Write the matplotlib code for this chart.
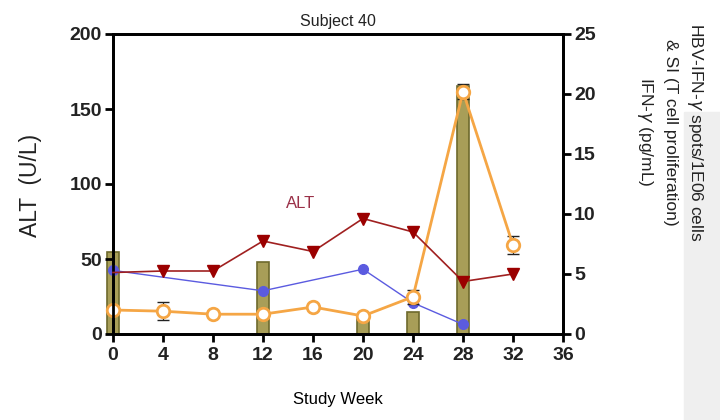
import matplotlib
matplotlib.use("Agg")
from matplotlib import pyplot as plt
from matplotlib.patches import Rectangle

plt.rcParams['font.family'] = ['Liberation Sans', 'DejaVu Sans']
plt.rcParams['text.color'] = '#222222'

# study weeks on the x axis
weeks = [0, 4, 8, 12, 16, 20, 24, 28, 32]
xticks = [0, 4, 8, 12, 16, 20, 24, 28, 32, 36]

# ALT (left axis, U/L)
alt = [41, 42, 42, 62, 55, 77, 68, 35, 40]

# HBV-IFN-gamma spots bars (right axis)
bar_weeks = [0, 12, 20, 24, 28]
bar_vals = [6.8, 6.0, 1.3, 1.8, 20.7]

# T cell proliferation SI, blue dots (right axis)
si_weeks = [0, 12, 20, 24, 28]
si_vals = [5.3, 3.6, 5.4, 2.6, 0.8]

# IFN-gamma pg/mL, open orange circles (right axis)
ifn = [2.0, 1.9, 1.65, 1.65, 2.25, 1.5, 3.1, 20.2, 7.4]
ifn_err = [0, 0.75, 0, 0, 0, 0, 0.6, 0.6, 0.75]

fig = plt.figure(figsize=(7.2, 4.2), dpi=100)
# light grey patch seen at right edge of the original screenshot
fig.patches.append(Rectangle((684 / 720, 0), 1, (420 - 112) / 420, transform=fig.transFigure,
                             color='#efefef', zorder=-10))
ax = fig.add_axes([113 / 720, 86 / 420, 450 / 720, 300 / 420])
ax2 = ax.twinx()

bars = ax2.bar(bar_weeks, bar_vals, width=0.95, color='#a89e58', edgecolor='#6e6a2c', linewidth=1.2, zorder=1)
for b in bars:
    b.set_clip_on(False)
ax2.plot(si_weeks, si_vals, color='#5b5be0', lw=1, marker='o', ms=7, mfc='#5b5be0', mec='#5b5be0',
         zorder=3, clip_on=False)
eb = ax2.errorbar(weeks, ifn, yerr=ifn_err, color='#f5a645', lw=2, marker='o', ms=9, mfc='white',
                  mec='#f5a645', ecolor='#222222', elinewidth=0.9, capsize=4, capthick=1.0, zorder=4)
eb.lines[0].set_markeredgewidth(2)
eb.lines[0].set_clip_on(False)

ax.set_zorder(ax2.get_zorder() + 1)
ax.patch.set_visible(False)
# first ALT marker sits under the blue dot in the original, so skip it
ax.plot(weeks, alt, color='#a02020', lw=1.2, marker='v', ms=8, mfc='#9b0000', mec='#9b0000',
        markevery=list(range(1, len(weeks))), zorder=5, clip_on=False)
ax.text(15, 87, 'ALT', color='#9a3048', fontsize=12, ha='center', va='center')

ax.set_xlim(0, 36)
ax.set_ylim(0, 200)
ax2.set_ylim(0, 25)
ax.set_xticks(xticks)
ax.set_yticks([0, 50, 100, 150, 200])
ax2.set_yticks([0, 5, 10, 15, 20, 25])

for a in (ax, ax2):
    for s in a.spines.values():
        s.set_linewidth(2)
        s.set_color('black')
    a.tick_params(width=2, length=6, labelsize=14, direction='out', labelcolor='#222222')
    for lab in a.get_xticklabels() + a.get_yticklabels():
        lab.set_fontweight('bold')
ax.tick_params(axis='y', pad=2)
ax2.tick_params(axis='y', pad=2)

ax.set_title('Subject 40', fontsize=11.5, pad=6)
ax.set_xlabel('Study Week', fontsize=12, labelpad=20)
fig.text(30 / 720, 1 - 185 / 420, 'ALT  (U/L)', rotation=90, fontsize=16.5, ha='center', va='center')
fig.text(670 / 720, 1 - 132 / 420, 'HBV-IFN-$\\gamma$ spots/1E06 cells\n& SI (T cell proliferation)\nIFN-$\\gamma$ (pg/mL)',
         rotation=270, fontsize=12.5, ha='center', va='center', multialignment='center', linespacing=1.6)

fig.savefig('out.png', dpi=100)
